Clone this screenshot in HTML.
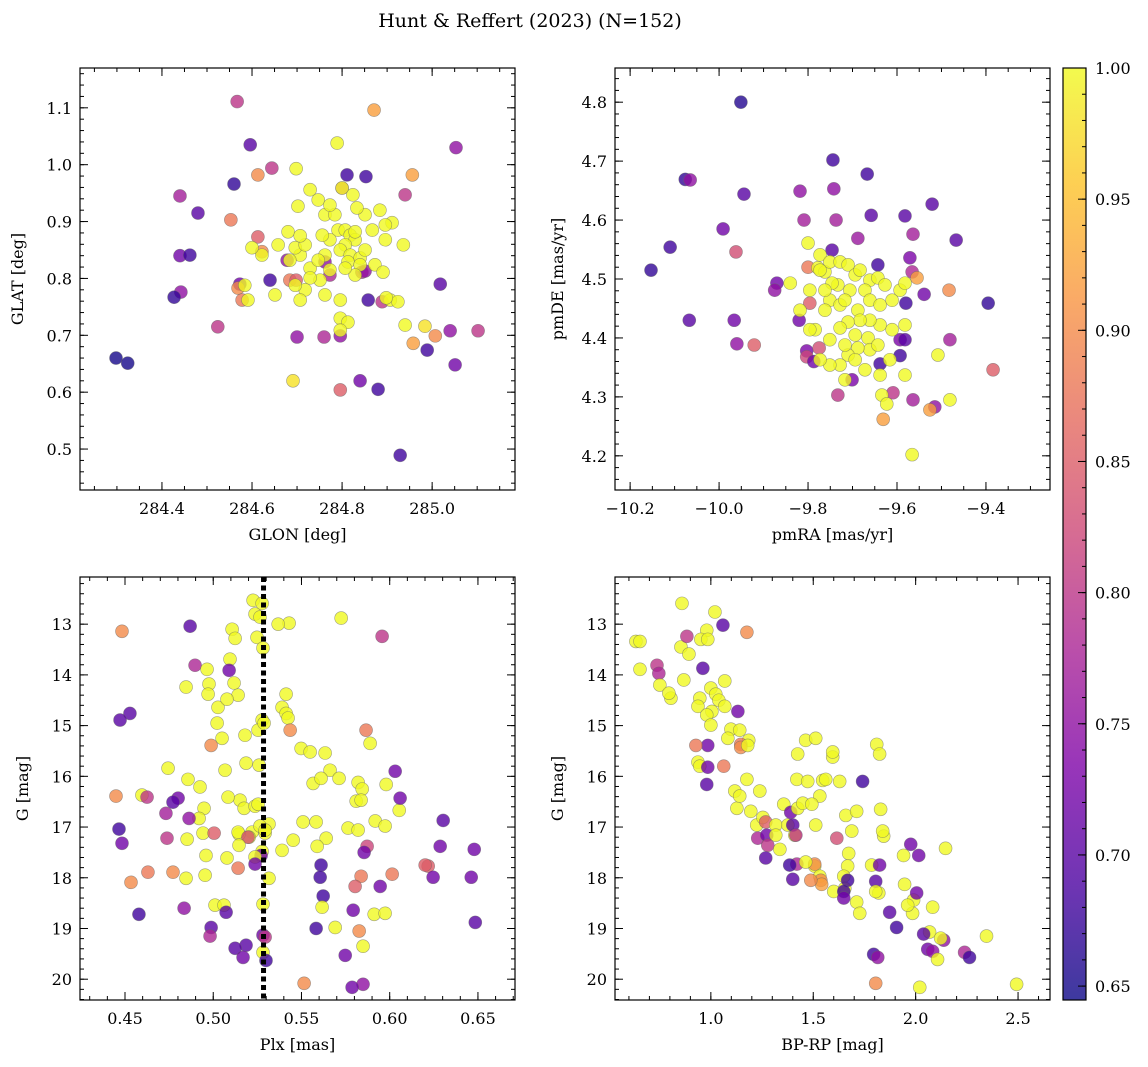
<!DOCTYPE html>
<html><head><meta charset="utf-8"><style>
body{margin:0;background:#fff;}
svg{display:block;font-family:"DejaVu Serif","Liberation Serif",serif;}
</style></head><body>
<svg id="fig" width="1148" height="1067" xmlns="http://www.w3.org/2000/svg">
<text x="530" y="27" text-anchor="middle" font-size="19">Hunt &amp; Reffert (2023) (N=152)</text>
</svg>
<script>
// Panel 1: GLON vs GLAT
const glon=[284.44,284.48,284.553,284.567,284.596,284.56,284.613,284.644,284.871,285.053,284.956,284.94,284.853,284.811,284.8,284.44,284.462,284.442,284.427,284.573,284.569,284.613,284.622,284.578,284.64,284.678,284.684,284.698,284.762,284.773,284.844,284.851,284.858,284.889,285.018,284.524,284.7,284.76,284.796,284.796,284.84,284.88,284.929,284.989,285.007,285.04,285.051,285.102,284.958,284.298,284.324,284.691,284.984,
284.762,284.784,284.791,284.807,284.818,284.829,284.807,284.773,284.756,284.796,284.818,284.84,284.813,284.762,284.773,284.751,284.729,284.707,284.68,284.696,284.684,284.718,284.718,284.762,284.796,284.796,284.813,284.84,284.829,284.851,284.873,284.891,284.907,284.924,284.898,284.807,284.829,284.867,284.896,284.851,284.696,284.729,284.747,284.707,284.658,284.622,284.584,284.591,284.651,284.6,284.936,284.796,284.94,284.707,284.747,284.729,284.789,284.698,284.824,284.702,284.773,284.833,284.884,284.911,284.896,284.8];
const glat=[0.945,0.915,0.903,1.111,1.035,0.966,0.982,0.994,1.096,1.030,0.982,0.947,0.979,0.982,0.959,0.840,0.841,0.776,0.767,0.790,0.783,0.873,0.847,0.762,0.797,0.832,0.797,0.797,0.829,0.806,0.811,0.813,0.762,0.759,0.790,0.715,0.697,0.697,0.699,0.604,0.620,0.605,0.489,0.674,0.699,0.708,0.648,0.708,0.686,0.660,0.651,0.620,0.716,
0.912,0.912,0.885,0.885,0.876,0.868,0.859,0.868,0.876,0.850,0.841,0.836,0.829,0.841,0.815,0.797,0.818,0.841,0.882,0.854,0.832,0.859,0.780,0.771,0.762,0.730,0.723,0.824,0.806,0.850,0.824,0.811,0.762,0.759,0.766,0.818,0.882,0.885,0.868,0.912,0.788,0.801,0.832,0.762,0.859,0.841,0.788,0.762,0.771,0.854,0.859,0.709,0.718,0.875,0.938,0.956,1.038,0.993,0.947,0.927,0.929,0.924,0.920,0.898,0.894,0.959];
const prob1=[0.77,0.70,0.88,0.80,0.70,0.67,0.90,0.80,0.92,0.75,0.92,0.80,0.68,0.68,0.82,0.72,0.68,0.75,0.67,0.72,0.90,0.85,0.90,0.88,0.68,0.75,0.88,0.85,0.75,0.78,0.78,0.75,0.68,0.80,0.70,0.80,0.75,0.78,0.75,0.85,0.72,0.68,0.68,0.68,0.90,0.75,0.72,0.80,0.92,0.65,0.65,0.98,0.98,
1,1,1,1,1,1,1,1,1,1,1,1,1,1,1,1,1,1,1,1,1,1,1,1,1,1,1,1,1,1,1,1,1,1,1,1,1,1,1,1,1,1,1,1,1,1,1,1,1,1,1,1,1,1,1,1,1,1,1,1,1,1,1,1,1,1];

// Panel 2: pmRA vs pmDE
const pmra=[-9.951,-10.076,-10.065,-9.944,-10.11,-10.153,-10.067,-9.991,-9.962,-9.818,-9.809,-9.744,-9.742,-9.737,-9.667,-9.658,-9.688,-9.746,-9.643,-9.582,-9.521,-9.564,-9.467,-9.571,-9.566,-9.555,-9.539,-9.483,-9.58,-9.395,-9.87,-9.875,-9.8,-9.796,-9.82,-9.966,-9.921,-9.96,-9.803,-9.775,-9.803,-9.787,-9.733,-9.701,-9.593,-9.582,-9.593,-9.638,-9.481,-9.384,-9.609,-9.564,-9.515,-9.526,-9.631,
-9.80,-9.773,-9.778,-9.762,-9.751,-9.728,-9.71,-9.694,-9.683,-9.661,-9.643,-9.627,-9.672,-9.706,-9.733,-9.751,-9.728,-9.688,-9.661,-9.638,-9.611,-9.638,-9.661,-9.683,-9.71,-9.728,-9.694,-9.665,-9.661,-9.688,-9.71,-9.773,-9.746,-9.762,-9.717,-9.762,-9.784,-9.751,-9.717,-9.643,-9.616,-9.638,-9.634,-9.623,-9.582,-9.566,-9.508,-9.481,-9.593,-9.582,-9.582,-9.611,-9.796,-9.818,-9.796,-9.84,-9.717,-9.728,-9.694,-9.672,-9.751,-9.773];
const pmde=[4.800,4.669,4.668,4.644,4.554,4.515,4.430,4.585,4.546,4.649,4.600,4.702,4.653,4.600,4.678,4.608,4.569,4.549,4.524,4.607,4.627,4.576,4.566,4.536,4.512,4.502,4.474,4.481,4.459,4.459,4.493,4.481,4.52,4.459,4.43,4.43,4.388,4.39,4.378,4.383,4.368,4.36,4.303,4.329,4.397,4.397,4.370,4.356,4.397,4.346,4.307,4.295,4.283,4.278,4.262,
4.561,4.541,4.519,4.512,4.529,4.529,4.524,4.507,4.515,4.498,4.502,4.490,4.481,4.481,4.490,4.464,4.456,4.447,4.464,4.456,4.464,4.422,4.430,4.430,4.427,4.417,4.405,4.4,4.380,4.383,4.371,4.515,4.493,4.481,4.464,4.447,4.414,4.397,4.388,4.388,4.363,4.337,4.303,4.288,4.337,4.202,4.371,4.295,4.481,4.493,4.422,4.414,4.414,4.447,4.481,4.493,4.329,4.354,4.363,4.346,4.354,4.363];
const prob2=[0.66,0.67,0.75,0.70,0.68,0.67,0.70,0.72,0.83,0.75,0.77,0.68,0.75,0.77,0.68,0.70,0.76,0.70,0.68,0.70,0.70,0.77,0.70,0.73,0.78,0.92,0.72,0.90,0.68,0.67,0.72,0.75,0.88,0.85,0.72,0.72,0.85,0.75,0.73,0.83,0.82,0.72,0.80,0.73,0.73,0.70,0.68,0.68,0.77,0.85,0.80,0.77,0.75,0.92,0.92,
1,1,1,1,1,1,1,1,1,1,1,1,1,1,1,1,1,1,1,1,1,1,1,1,1,1,1,1,1,1,1,1,1,1,1,1,1,1,1,1,1,1,1,1,1,1,1,1,1,1,1,1,1,1,1,1,1,1,1,1,1,1];

// Panel 3: Plx vs G
const plx=[0.4483,0.4869,0.5226,0.5237,0.5277,0.5265,0.5430,0.5368,0.5107,0.5124,0.5248,0.5282,0.5725,0.5957,0.5095,0.4897,0.5090,0.4965,0.5118,0.5141,0.4976,0.4971,0.5027,0.5078,0.4846,0.4528,0.4472,0.5277,0.5390,0.5413,0.5424,0.5413,0.5022,0.4988,0.5050,0.5180,0.5436,0.5254,0.5288,0.5866,0.5498,0.5549,0.5634,0.5662,0.5566,0.5611,0.5713,0.5889,0.6031,0.5980,0.5821,0.5844,0.5810,0.4744,0.4596,0.4857,0.4925,0.5067,0.5186,0.5260,0.5152,0.5175,0.5237,0.5254,0.5220,0.5084,0.4948,0.4920,0.4801,0.4732,0.4625,0.4772,0.4449,0.4738,0.4863,0.4942,0.5316,0.5265,0.5203,0.5146,0.5005,0.4852,0.4466,0.4483,0.5141,0.5197,0.5277,0.5294,0.5271,0.5294,0.4959,0.5078,0.5146,0.5390,0.5453,0.5509,0.5583,0.5640,0.5589,0.5764,0.5838,0.5821,0.5918,0.5974,0.6054,0.6303,0.6059,0.5872,0.5855,0.6286,0.6218,0.6201,0.6246,0.6014,0.5946,0.5838,0.5804,0.5611,0.5606,0.5623,0.6462,0.6479,0.4772,0.4630,0.4846,0.4954,0.5141,0.4534,0.5010,0.5061,0.4835,0.5073,0.5316,0.5237,0.5237,0.5282,0.5617,0.5583,0.5691,0.5793,0.5827,0.5912,0.5974,0.4579,0.4988,0.4982,0.5282,0.5294,0.5186,0.5124,0.5169,0.5282,0.5299,0.5515,0.5849,0.5787,0.5748,0.5849,0.6485];
const gmag3=[13.14,13.04,12.53,12.80,12.59,12.86,12.98,13.0,13.10,13.28,13.26,13.47,12.88,13.24,13.69,13.81,13.91,13.89,14.16,14.40,14.18,14.38,14.64,14.48,14.24,14.76,14.89,14.89,14.64,14.76,14.85,14.38,14.95,15.39,15.25,15.19,15.09,15.09,14.95,15.09,15.45,15.52,15.54,15.88,16.14,16.04,16.04,15.35,15.90,16.16,16.12,16.25,16.49,15.84,16.37,16.06,16.21,15.88,15.74,15.78,16.47,16.63,16.59,16.55,17.10,16.41,16.63,16.83,16.43,16.73,16.41,16.51,16.39,17.22,16.83,17.12,16.94,16.98,17.20,17.14,17.12,17.24,17.04,17.32,17.10,17.20,17.48,17.12,17.56,17.06,17.56,17.61,17.36,17.46,17.26,16.90,16.90,17.22,17.38,17.02,16.47,17.06,16.88,16.98,16.67,16.87,16.43,17.38,17.50,17.38,17.77,17.75,17.99,17.93,18.17,17.97,18.17,17.75,17.99,18.36,17.99,17.44,17.89,17.89,18.01,17.95,17.81,18.09,18.54,18.54,18.60,18.68,18.01,17.59,17.73,18.52,18.58,19.0,18.98,18.64,19.05,18.72,18.70,18.72,18.98,19.15,19.13,19.17,19.33,19.39,19.57,19.47,19.63,20.08,20.10,20.16,19.53,19.35,18.88,19.86];
const prob3=[0.9,0.7,1,1,1,1,1,1,1,1,1,1,1,0.8,1,0.78,0.72,1,1,1,1,1,1,1,1,0.7,0.7,1,1,1,1,1,1,0.9,1,1,0.9,1,1,0.88,1,1,1,1,1,1,1,1,0.72,1,1,1,1,1,1,1,1,1,1,1,1,1,1,1,1,1,1,1,0.72,0.77,0.8,0.7,0.9,0.8,0.75,1,1,1,1,1,0.85,1,0.68,0.72,1,0.83,1,1,0.72,1,1,1,1,1,1,1,1,1,1,1,1,1,1,1,1,0.7,0.72,0.82,0.72,0.72,0.85,0.85,0.72,0.88,0.72,0.88,0.85,0.68,0.68,0.68,0.72,0.72,0.9,0.88,1,1,0.88,0.9,1,1,0.75,0.7,1,1,0.72,1,1,0.68,1,0.72,0.9,1,1,0.68,0.7,0.78,0.72,0.8,0.7,0.7,0.72,1,0.68,0.9,0.75,0.72,0.72,1,0.7];

// Panel 4: BP-RP vs G
const bprp=[0.634,0.654,0.654,0.737,0.746,0.751,0.805,0.795,0.854,0.883,0.859,0.980,0.951,0.893,0.868,0.985,1.02,1.059,1.176,0.961,1.0,1.024,1.039,1.068,1.132,1.068,0.946,1.005,0.937,0.980,1.0,1.098,1.141,1.185,0.985,1.146,1.146,0.927,0.937,1.063,1.083,1.180,0.946,0.985,0.980,1.176,1.117,1.127,1.195,1.239,1.141,1.224,1.254,1.268,1.229,1.273,1.317,1.376,1.317,1.278,1.268,1.337,1.41,1.356,1.39,1.40,1.424,1.512,1.415,1.449,1.42,1.424,1.463,1.512,1.546,1.595,1.532,1.493,1.473,1.561,1.595,1.629,1.688,1.659,1.615,1.673,1.668,1.649,1.60,1.507,1.507,1.42,1.385,1.40,1.532,1.537,1.541,1.488,1.463,1.654,1.668,1.649,1.649,1.712,1.727,1.820,1.785,1.805,1.824,1.844,1.829,1.839,1.946,1.941,1.985,1.990,2.068,2.083,2.059,2.083,2.137,2.122,2.107,2.005,1.873,1.907,1.795,2.039,2.239,2.263,2.346,2.146,1.810,1.824,2.015,1.976,1.741,1.815,1.805,2.020,2.493,1.961,1.712,1.805];
const gmag4=[13.34,13.34,13.89,13.81,13.97,14.20,14.46,14.36,13.45,13.24,12.59,13.12,13.30,13.59,14.10,13.30,12.76,13.02,13.16,13.87,14.26,14.38,14.50,14.62,14.72,14.12,14.46,14.72,14.62,14.79,14.99,15.07,15.09,15.29,15.39,15.37,15.43,15.39,15.72,15.80,15.25,15.39,15.80,15.82,16.16,16.06,16.29,16.63,16.69,16.29,16.39,16.96,16.81,16.90,17.22,17.16,16.96,16.96,17.16,17.36,17.61,17.44,17.16,16.55,16.71,16.96,16.63,16.96,17.16,16.53,16.06,15.56,15.29,15.25,16.08,15.62,16.39,16.55,16.10,16.06,15.52,16.10,17.08,16.77,17.22,17.52,17.77,17.97,18.27,17.77,17.73,17.73,17.75,18.03,17.97,18.05,18.13,18.05,17.69,18.21,18.05,18.27,18.40,18.48,18.70,18.30,17.75,18.07,17.75,17.18,16.65,17.08,18.13,17.56,18.70,18.44,19.07,18.58,19.41,19.45,19.23,19.19,19.61,18.30,18.68,18.98,19.51,19.11,19.47,19.57,19.15,17.42,15.37,15.56,17.56,17.34,16.10,19.57,20.08,20.16,20.10,18.54,16.69,18.27];
const prob4=[1,1,1,0.8,0.78,1,1,1,1,0.8,1,1,1,1,1,1,1,0.7,0.9,0.7,1,1,1,1,0.72,1,1,1,1,1,1,1,1,1,0.72,0.88,0.9,0.88,1,0.88,1,1,1,0.72,0.7,1,1,1,1,1,1,1,1,0.85,0.78,0.72,1,1,1,0.8,0.7,1,1,1,0.72,0.7,1,1,0.8,1,1,1,1,1,1,1,1,1,1,1,1,1,1,1,0.83,1,1,1,1,1,0.9,0.78,0.68,0.7,1,0.9,0.92,0.9,1,1,0.68,0.68,0.72,1,1,1,1,0.7,0.72,1,1,1,1,1,1,1,1,1,0.72,0.75,0.75,1,1,0.72,0.7,0.68,0.68,0.7,0.78,0.68,1,1,1,1,0.72,0.72,0.68,0.75,0.9,1,1,1,1,1,1,1,1,1];

const xTicks1=["284.4","284.6","284.8","285.0"];
const yTicks1=["0.5","0.6","0.7","0.8","0.9","1.0","1.1"];
const xTicks2=["\u221210.2","\u221210.0","\u22129.8","\u22129.6","\u22129.4"];
const yTicks2=["4.2","4.3","4.4","4.5","4.6","4.7","4.8"];
const xTicks3=["0.45","0.50","0.55","0.60","0.65"];
const yTicksG=["13","14","15","16","17","18","19","20"];
const xTicks4=["1.0","1.5","2.0","2.5"];
const cbTicks=["0.65","0.70","0.75","0.80","0.85","0.90","0.95","1.00"];
const plxLine=0.5285;

const NS="http://www.w3.org/2000/svg";
const svg=document.getElementById('fig');
function mk(tag,attrs,parent){const e=document.createElementNS(NS,tag);for(const k in attrs)e.setAttribute(k,attrs[k]);(parent||svg).appendChild(e);return e;}
const stops=["#0d0887","#4c02a1","#7e03a8","#a92395","#cc4778","#e56b5d","#f89441","#fdc328","#f0f921"];
function hex(h){return [1,3,5].map(i=>parseInt(h.substr(i,2),16));}
const CMIN=0.6447,CMAX=1.0;
function cmap(v){if(typeof v!=='number'||isNaN(v))v=1;let t=(v-CMIN)/(CMAX-CMIN);t=Math.max(0,Math.min(1,t));const s=t*8,i=Math.min(7,Math.floor(s)),f=s-i;const a=hex(stops[i]),b=hex(stops[i+1]);return "rgb("+a.map((x,k)=>Math.round(x+(b[k]-x)*f)).join(",")+")";}
function lin(d0,d1,p0,p1){return v=>p0+(v-d0)/(d1-d0)*(p1-p0);}

function panel(o){
  const g=mk('g',{});
  
  
  const X=lin(o.xd[0],o.xd[1],o.L,o.R), Y=lin(o.yd[0],o.yd[1],o.B,o.T);
  const tk=mk('g',{stroke:'#000','stroke-width':1},g);
  
  
  function ticksX(start,step,end,len){for(let v=start;v<=end+1e-9;v+=step){const x=X(v);if(x<o.L-0.5||x>o.R+0.5)continue;mk('line',{x1:x,x2:x,y1:o.B,y2:o.B-len},tk);mk('line',{x1:x,x2:x,y1:o.T,y2:o.T+len},tk);}}
  function ticksY(start,step,end,len){for(let v=start;v<=end+1e-9;v+=step){const y=Y(v);if(y<o.T-0.5||y>o.B+0.5)continue;mk('line',{x1:o.L,x2:o.L+len,y1:y,y2:y},tk);mk('line',{x1:o.R,x2:o.R-len,y1:y,y2:y},tk);}}
  ticksX(o.xmin0,o.xminor,o.xd[1]+1,4);ticksY(o.ymin0,o.yminor,Math.max(o.yd[0],o.yd[1])+1,4);
  o.xt.forEach(s=>{const v=parseFloat(s.replace('\u2212','-'));const x=X(v);mk('line',{x1:x,x2:x,y1:o.B,y2:o.B-8},tk);mk('line',{x1:x,x2:x,y1:o.T,y2:o.T+8},tk);
    const t=mk('text',{x:x,y:o.B+24,'text-anchor':'middle','font-size':16},g);t.textContent=s;
    });
  o.yt.forEach(s=>{const v=parseFloat(s);const y=Y(v);mk('line',{x1:o.L,x2:o.L+8,y1:y,y2:y},tk);mk('line',{x1:o.R,x2:o.R-8,y1:y,y2:y},tk);
    const t=mk('text',{x:o.L-8,y:y+6,'text-anchor':'end','font-size':16},g);t.textContent=s;
    });
  const pts=mk('g',{},g);
  
  
  const n=Math.min(o.xs.length,o.ys.length);
  for(let i=0;i<n;i++){
    const c=mk('circle',{cx:X(o.xs[i]),cy:Y(o.ys[i]),r:6.5,fill:cmap(o.cs[i]),'fill-opacity':0.8,stroke:'#666','stroke-opacity':0.6,'stroke-width':0.6},pts);
    
    
  }
  if(o.vline!==undefined){const l=mk('line',{x1:X(o.vline),x2:X(o.vline),y1:o.T,y2:o.B,stroke:'#000','stroke-width':5,'stroke-dasharray':'5,3.5'},g);
    }
  const fr=mk('rect',{x:o.L,y:o.T,width:o.R-o.L,height:o.B-o.T,fill:'none',stroke:'#000','stroke-width':1.2},g);
  
  const xl=mk('text',{x:(o.L+o.R)/2,y:o.B+50,'text-anchor':'middle','font-size':16},g);xl.textContent=o.xlab;
  
  const yx=o.L-o.ylabOff,yy=(o.T+o.B)/2;
  const yl=mk('text',{x:yx,y:yy,'text-anchor':'middle','font-size':16,transform:'rotate(-90 '+yx+' '+yy+')'},g);yl.textContent=o.ylab;
  
}
panel({name:'glon-glat-panel',L:80,R:515,T:68,B:490,xd:[284.218,285.184],yd:[0.428,1.170],xmin0:284.2,xminor:0.05,ymin0:0.42,yminor:0.02,xt:xTicks1,yt:yTicks1,xs:glon,ys:glat,cs:prob1,xlab:'GLON [deg]',ylab:'GLAT [deg]',ylabOff:57});
panel({name:'pm-panel',L:615,R:1050,T:68,B:490,xd:[-10.234,-9.256],yd:[4.142,4.858],xmin0:-10.25,xminor:0.05,ymin0:4.14,yminor:0.02,xt:xTicks2,yt:yTicks2,xs:pmra,ys:pmde,cs:prob2,xlab:'pmRA [mas/yr]',ylab:'pmDE [mas/yr]',ylabOff:52});
panel({name:'plx-g-panel',L:80,R:515,T:577,B:1000,xd:[0.4245,0.671],yd:[20.41,12.07],xmin0:0.42,xminor:0.01,ymin0:12.0,yminor:0.2,xt:xTicks3,yt:yTicksG,xs:plx,ys:gmag3,cs:prob3,xlab:'Plx [mas]',ylab:'G [mag]',ylabOff:52,vline:plxLine});
panel({name:'cmd-panel',L:615,R:1050,T:577,B:1000,xd:[0.532,2.656],yd:[20.41,12.07],xmin0:0.6,xminor:0.1,ymin0:12.0,yminor:0.2,xt:xTicks4,yt:yTicksG,xs:bprp,ys:gmag4,cs:prob4,xlab:'BP-RP [mag]',ylab:'G [mag]',ylabOff:52});

// Colorbar
(function(){
  const L=1063,R=1086,T=68,B=1000;
  const g=mk('g',{});
  
  
  const defs=mk('defs',{},g);
  const grad=mk('linearGradient',{id:'cbg',x1:0,y1:1,x2:0,y2:0},defs);
  stops.forEach((s,i)=>mk('stop',{offset:(i/8),'stop-color':s,'stop-opacity':0.8},grad));
  mk('rect',{x:L,y:T,width:R-L,height:B-T,fill:'url(#cbg)'},g);
  const Y=lin(CMIN,CMAX,B,T);
  for(let v=0.65;v<=1.0001;v+=0.01){const y=Y(v);mk('line',{x1:R,x2:R-4,y1:y,y2:y,stroke:'#000'},g);}
  cbTicks.forEach(s=>{const y=Y(parseFloat(s));mk('line',{x1:R,x2:R-8,y1:y,y2:y,stroke:'#000'},g);
    const t=mk('text',{x:R+9,y:y+6,'font-size':16},g);t.textContent=s;
    });
  mk('rect',{x:L,y:T,width:R-L,height:B-T,fill:'none',stroke:'#000','stroke-width':1.2},g);
})();
</script>
</body></html>
